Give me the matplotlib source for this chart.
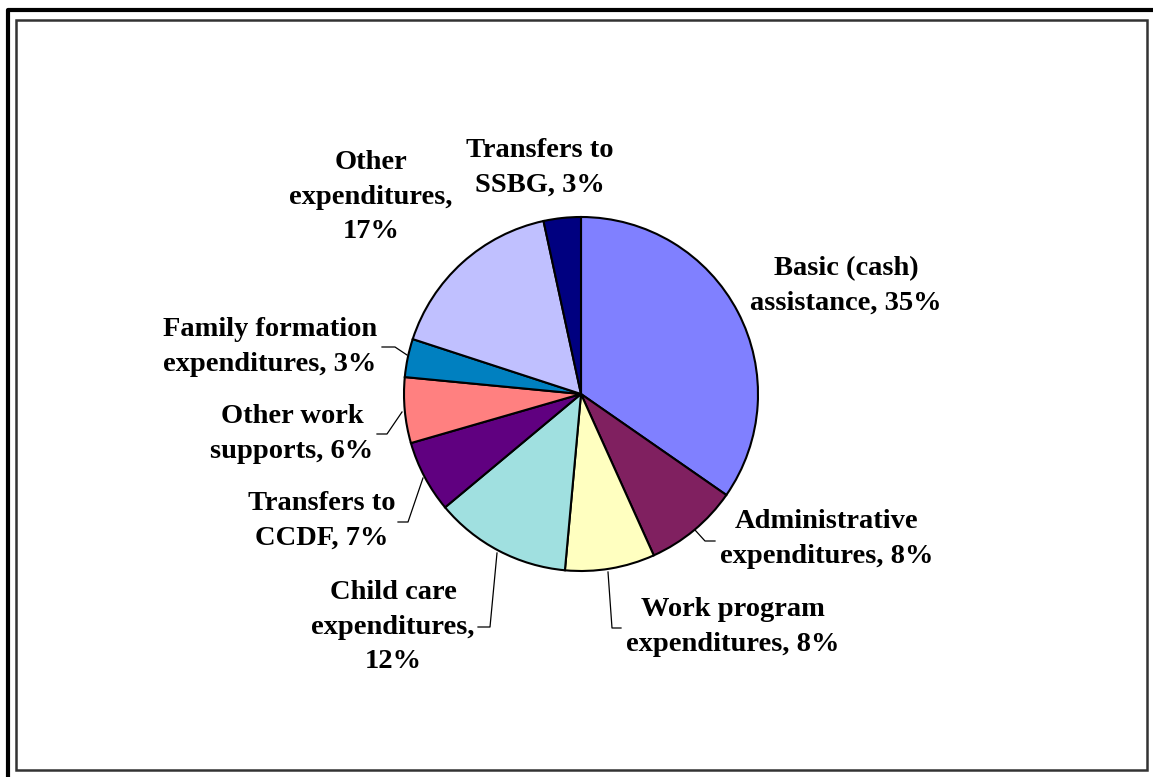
import matplotlib.pyplot as plt
from matplotlib.patches import Rectangle

# Data for the pie (shares in %)
categories = ["Basic (cash)\nassistance, 35%",
              "Administrative\nexpenditures, 8%",
              "Work program\nexpenditures, 8%",
              "Child care\nexpenditures,\n12%",
              "Transfers to\nCCDF, 7%",
              "Other work\nsupports, 6%",
              "Family formation\nexpenditures, 3%",
              "Other\nexpenditures,\n17%",
              "Transfers to\nSSBG, 3%"]
shares = [34.7, 8.6, 8.2, 12.5, 6.6, 6.0, 3.5, 16.6, 3.4]
colors = ['#8080FF', '#802060', '#FFFFC0', '#A0E0E0', '#600080',
          '#FF8080', '#0080C0', '#C0C0FF', '#000080']

# label placement (pixel coords, centre of text block)
label_pos = [(846, 286), (827, 539), (733, 627), (393, 627), (322, 521),
             (292, 434), (270, 347), (371, 197), (540, 168)]
leaders = {
    1: [(715, 541), (705, 541), (695, 530)],
    2: [(621, 628), (612, 628), (608, 572)],
    3: [(478, 627), (490, 627), (497, 553)],
    4: [(398, 522), (408, 522), (423, 478)],
    5: [(377, 434), (387, 434), (402, 412)],
    6: [(382, 347), (395, 347), (407, 355)],
}

W, H = 1153, 777
fig = plt.figure(figsize=(W / 100, H / 100), dpi=100)
ax = fig.add_axes([0, 0, 1, 1])

# y axis is inverted, so counterclock in data is clockwise on screen
ax.pie(shares, colors=colors, startangle=270, counterclock=True,
       center=(581, 394), radius=177,
       wedgeprops=dict(edgecolor='black', linewidth=1.5))
ax.set_xlim(0, W)
ax.set_ylim(H, 0)
ax.set_aspect('equal')
ax.axis('off')

for text, (x, y) in zip(categories, label_pos):
    ax.text(x, y, text, ha='center', va='center', multialignment='center',
            fontsize=20.5, fontweight='bold', family='Liberation Serif',
            linespacing=1.52)

for pts in leaders.values():
    xs, ys = zip(*pts)
    ax.plot(xs, ys, color='black', lw=0.9)

# chart frames
ax.plot([8, 8, W], [H, 10, 10], color='black', lw=3, clip_on=False)
ax.add_patch(Rectangle((16, 20), 1131, 750, fill=False, edgecolor='#333333',
                       lw=1.8))

fig.savefig('out.png', dpi=100)
